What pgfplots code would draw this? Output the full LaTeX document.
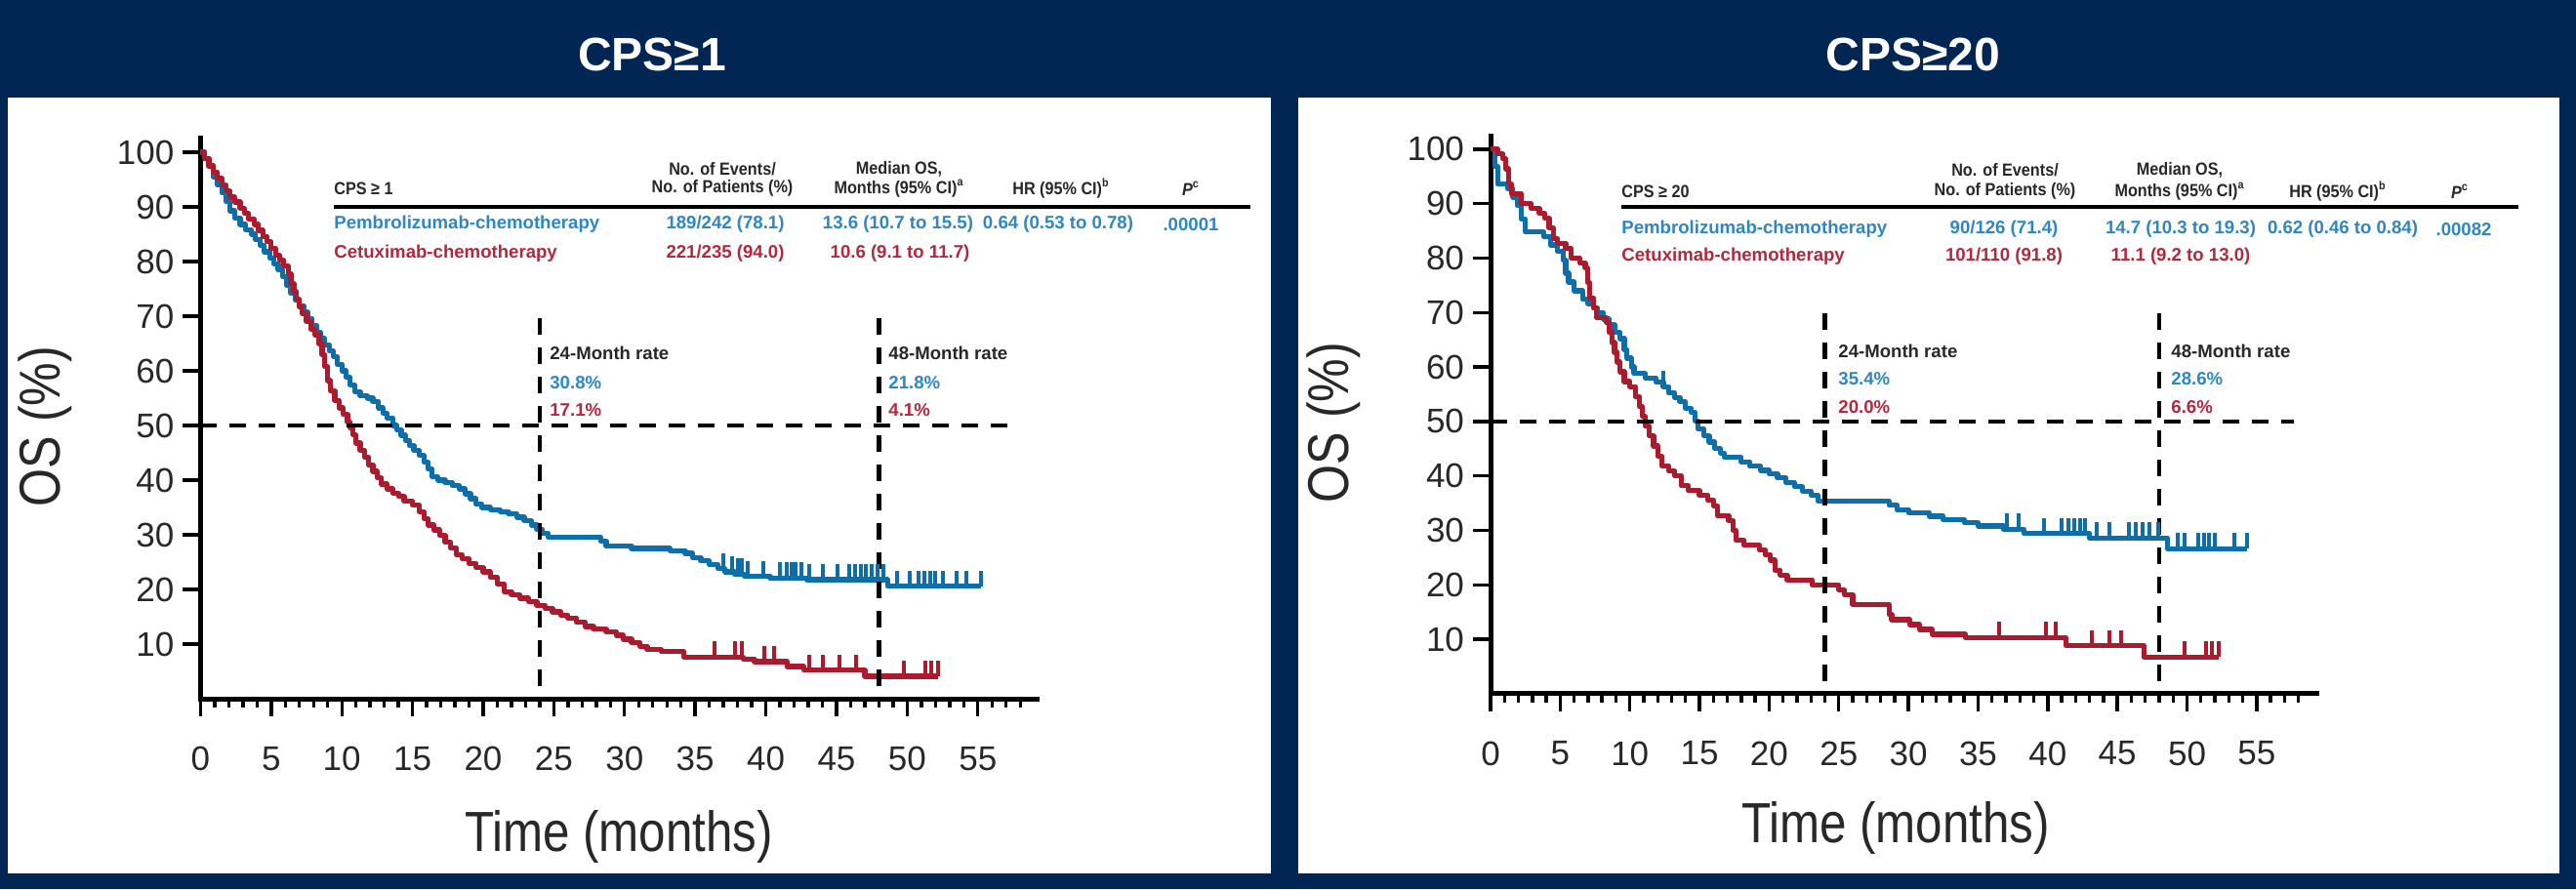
\documentclass[border=0pt]{standalone}
\usepackage{pgfplots}
\pgfplotsset{compat=1.18}
\usepackage{fontspec}
\setmainfont{Liberation Sans}
\newfontfamily\cond[FakeStretch=0.85]{Liberation Sans}
\newfontfamily\condb[FakeStretch=0.9]{Liberation Sans}
\definecolor{navy}{RGB}{2,38,84}
\definecolor{cblue}{RGB}{14,110,170}
\definecolor{cred}{RGB}{172,26,46}
\definecolor{tblue}{RGB}{45,135,195}
\definecolor{tred}{RGB}{180,40,62}
\definecolor{tdark}{RGB}{40,40,40}
\pgfdeclareplotmark{cens}{\pgfpathmoveto{\pgfqpoint{0pt}{0pt}}\pgfpathlineto{\pgfqpoint{0pt}{\pgfplotmarksize}}\pgfusepathqstroke}
\pgfplotsset{kmaxis/.style={scale only axis, anchor=south west, xmin=0, ymin=0,
  axis x line*=bottom, axis y line*=left,
  axis line style={line width=2.5pt, line cap=rect, black},
  tick align=outside, xtick={0,5,...,55}, minor xtick={1,2,...,58}, ytick={10,20,...,100},
  major tick length=9pt, minor tick length=4.5pt,
  tick style={line width=1.7pt, black},
  tick label style={font=\fontsize{17.5}{17.5}\selectfont, text=tdark},
  xticklabel style={yshift=-12pt},
  yticklabel style={xshift=-1pt},
  /pgf/number format/assume math mode=true,
  clip=false},
  kmline/.style={const plot, line width=2.6pt, line join=round},
  kmcens/.style={only marks, mark=cens, mark size=8pt, line width=2pt},
  refline/.style={black, line width=2.2pt, dash pattern=on 8.5pt off 6.5pt}}
\begin{document}
\begin{tikzpicture}
\fill[navy] (0,0) rectangle (1319.5pt,455.5pt);
\fill[white] (4pt,8pt) rectangle (651pt,405.5pt);
\fill[white] (665pt,8pt) rectangle (1311pt,405.5pt);
\node[white,font=\bfseries\fontsize{24}{24}\selectfont] at (334pt,427.5pt) {CPS≥1};
\node[white,font=\bfseries\fontsize{24}{24}\selectfont] at (980pt,427.5pt) {CPS≥20};

% ---------------- Left panel ----------------
\begin{axis}[kmaxis, at={(102.7pt,97.5pt)}, width=428.6pt, height=287pt, xmax=59.2, ymax=102.5]
\addplot[kmline, cblue] coordinates {(0,100) (0.3,98.8) (0.6,97.5) (0.9,95.5) (1.2,94.0) (1.5,92.6) (1.8,91.0) (2.1,89.3) (2.4,88.0) (2.8,86.8) (3.2,85.8) (3.6,85.0) (3.9,84.0) (4.2,83.0) (4.5,81.8) (4.9,80.6) (5.2,79.6) (5.5,78.5) (5.8,77.3) (6.1,75.6) (6.4,74.2) (6.7,73.0) (7.0,71.9) (7.3,70.7) (7.6,69.6) (7.9,68.3) (8.2,67.1) (8.5,65.9) (8.8,64.8) (9.1,63.6) (9.4,62.6) (9.7,61.2) (10.0,60.0) (10.3,58.8) (10.6,57.4) (10.9,56.2) (11.3,55.4) (11.8,55.0) (12.2,54.4) (12.6,53.2) (12.9,52.3) (13.2,51.4) (13.6,50.0) (13.9,49.2) (14.2,48.2) (14.5,47.3) (14.8,46.3) (15.1,45.4) (15.5,44.5) (15.8,43.3) (16.1,42.0) (16.4,40.6) (16.8,40.0) (17.3,39.6) (17.8,39.0) (18.3,38.4) (18.7,37.5) (19.1,36.6) (19.5,35.6) (19.9,35.0) (20.5,34.6) (21.2,34.2) (21.8,33.8) (22.4,33.2) (22.9,32.6) (23.4,31.8) (23.8,31.0) (24.2,30.3) (24.6,29.6) (28.3,28.8) (28.7,27.9) (30.5,27.5) (33.2,27.1) (34.3,26.6) (34.8,25.8) (35.4,25.2) (36.0,24.5) (36.6,23.8) (37.1,23.2) (37.8,22.8) (38.5,22.4) (40.3,22.1) (42.9,21.8) (48.6,20.6) (55.2,20.6)};
\addplot[kmcens, cblue] coordinates {(37.0,23.8) (37.6,23.2) (38.0,22.8) (38.3,22.8) (38.7,22.4) (39.8,22.4) (41.0,22.1) (41.5,22.1) (41.8,22.1) (42.1,22.1) (42.5,22.1) (43.1,21.8) (44.0,21.8) (45.1,21.8) (45.9,21.8) (46.3,21.8) (46.7,21.8) (47.1,21.8) (47.5,21.8) (47.9,21.8) (48.3,21.8) (49.3,20.6) (50.2,20.6) (50.8,20.6) (51.2,20.6) (51.6,20.6) (52.0,20.6) (52.5,20.6) (53.5,20.6) (54.2,20.6) (55.2,20.6)};
\addplot[kmline, cred] coordinates {(0,100) (0.3,98.8) (0.6,97.5) (0.9,96.4) (1.2,95.2) (1.5,94.0) (1.8,92.9) (2.1,91.8) (2.4,90.9) (2.8,89.8) (3.1,88.8) (3.4,87.8) (3.8,86.8) (4.1,85.7) (4.4,84.6) (4.7,83.6) (5.0,82.4) (5.3,81.2) (5.6,80.2) (5.9,79.2) (6.2,77.8) (6.4,76.0) (6.6,74.5) (6.8,73.1) (7.0,71.7) (7.2,70.4) (7.5,69.0) (7.8,67.6) (8.1,66.6) (8.4,64.9) (8.6,63.0) (8.8,60.8) (9.0,58.2) (9.2,56.3) (9.5,54.6) (9.8,53.2) (10.1,52.0) (10.4,50.6) (10.6,49.6) (10.8,48.3) (11.0,46.8) (11.3,45.5) (11.6,44.2) (11.9,42.8) (12.2,41.6) (12.5,40.4) (12.8,39.3) (13.2,38.4) (13.6,37.6) (14.0,37.0) (14.4,36.2) (15.0,35.4) (15.5,34.2) (15.8,33.0) (16.1,31.8) (16.5,30.9) (16.9,29.9) (17.3,28.7) (17.7,27.6) (18.1,26.4) (18.5,25.6) (19.0,24.8) (19.5,24.0) (20.0,23.2) (20.5,22.2) (21.0,21.0) (21.5,19.6) (22.0,19.0) (22.6,18.4) (23.2,17.8) (23.8,17.1) (24.4,16.5) (24.9,15.9) (25.5,15.3) (26.0,14.8) (26.6,14.0) (27.2,13.2) (27.8,12.7) (28.7,12.3) (29.4,11.6) (29.9,10.9) (30.5,10.3) (31.1,9.6) (31.6,9.0) (32.6,8.6) (34.2,7.6) (38.4,7.2) (39.2,6.8) (41.5,5.9) (42.7,5.2) (47.0,4.1) (52.2,4.1)};
\addplot[kmcens, cred] coordinates {(36.4,7.6) (37.8,7.6) (38.3,7.6) (39.9,6.8) (40.6,6.8) (43.1,5.2) (44.0,5.2) (45.2,5.2) (46.4,5.2) (49.8,4.1) (51.3,4.1) (51.7,4.1) (52.2,4.1)};
\addplot[refline] coordinates {(0,50) (57.7,50)};
\addplot[refline] coordinates {(24,2.3) (24,71.6)};
\addplot[refline] coordinates {(48,2.3) (48,71.6)};
\end{axis}

% ---------------- Right panel ----------------
\begin{axis}[kmaxis, at={(763.5pt,100.1pt)}, width=423.1pt, height=285.4pt, xmax=59.3, ymax=102.3]
\addplot[kmline, cblue] coordinates {(0,100) (0.3,96.8) (0.5,93.6) (1.2,92.8) (1.6,91.2) (1.9,89.6) (2.2,87.2) (2.5,84.8) (3.8,84.0) (4.3,82.4) (4.8,81.2) (5.2,79.6) (5.4,77.2) (5.6,75.6) (6.0,74.0) (6.6,72.4) (7.0,71.6) (7.4,70.8) (7.7,70.0) (8.1,68.8) (8.5,67.8) (8.9,66.4) (9.3,65.2) (9.6,63.2) (9.8,61.6) (10.1,60.0) (10.3,58.8) (11.1,58.0) (11.9,57.2) (12.4,56.4) (12.8,55.2) (13.2,54.4) (13.6,53.6) (14.0,52.4) (14.4,51.6) (14.7,50.0) (14.9,48.6) (15.3,47.4) (15.7,46.2) (16.1,45.0) (16.5,44.2) (16.8,43.4) (18.0,42.6) (18.6,41.8) (19.4,41.0) (20.0,40.4) (20.6,39.6) (21.2,38.8) (21.8,38.0) (22.4,37.2) (23.0,36.4) (23.5,35.4) (28.6,34.6) (29.2,33.8) (30.0,33.2) (31.5,32.6) (32.5,32.0) (34.0,31.4) (35.0,30.8) (36.8,30.2) (38.3,29.4) (43.0,28.6) (48.6,26.6) (54.3,26.6)};
\addplot[kmcens, cblue] coordinates {(12.4,56.4) (37.1,30.2) (37.9,30.2) (39.7,29.4) (41.0,29.4) (41.5,29.4) (41.9,29.4) (42.3,29.4) (42.7,29.4) (43.5,28.6) (44.4,28.6) (45.8,28.6) (46.3,28.6) (46.8,28.6) (47.3,28.6) (47.9,28.6) (49.3,26.6) (49.8,26.6) (50.8,26.6) (51.2,26.6) (51.6,26.6) (52.0,26.6) (53.4,26.6) (54.3,26.6)};
\addplot[kmline, cred] coordinates {(0,100) (0.5,99.1) (0.9,98.2) (1.1,96.4) (1.3,93.6) (1.5,91.8) (2.2,90.0) (2.9,89.1) (3.5,88.2) (3.9,87.3) (4.2,85.5) (4.5,83.6) (4.8,82.7) (5.4,81.8) (5.8,80.0) (6.4,79.1) (6.8,78.2) (6.95,75.5) (7.1,72.7) (7.4,70.9) (7.6,69.1) (8.3,68.2) (8.5,66.4) (8.7,64.5) (8.9,62.7) (9.1,60.9) (9.3,59.1) (9.6,57.3) (10.0,56.4) (10.4,54.5) (10.7,52.7) (10.9,50.9) (11.1,49.1) (11.4,47.3) (11.7,45.5) (12.0,43.6) (12.3,41.8) (12.8,40.9) (13.2,40.0) (13.7,38.2) (14.2,37.3) (15.0,36.4) (15.6,35.5) (16.0,34.5) (16.3,32.7) (17.1,31.8) (17.4,30.0) (17.6,28.2) (18.2,27.3) (19.3,26.4) (19.7,25.5) (20.1,24.5) (20.4,22.7) (20.8,21.8) (21.3,20.9) (23.1,20.0) (25.0,19.1) (25.4,18.2) (26.0,16.4) (28.6,14.5) (28.8,13.6) (30.1,12.7) (30.8,11.8) (31.7,10.9) (34.1,10.3) (41.3,8.8) (46.9,6.7) (52.3,6.7)};
\addplot[kmcens, cred] coordinates {(36.5,10.3) (39.9,10.3) (40.6,10.3) (43.2,8.8) (44.4,8.8) (45.3,8.8) (49.8,6.7) (51.4,6.7) (51.8,6.7) (52.3,6.7)};
\addplot[refline] coordinates {(0,50) (57.7,50)};
\addplot[refline] coordinates {(24,2.3) (24,70)};
\addplot[refline] coordinates {(48,2.3) (48,70)};
\end{axis}

% axis titles
\node[rotate=90, font=\cond\fontsize{29.5}{29.5}\selectfont, text=tdark] at (23pt,237pt) {OS (\%)};
\node[font=\cond\fontsize{29}{29}\selectfont, text=tdark] at (317pt,27pt) {Time (months)};
\node[rotate=90, font=\cond\fontsize{29.5}{29.5}\selectfont, text=tdark] at (683pt,239pt) {OS (\%)};
\node[font=\cond\fontsize{29}{29}\selectfont, text=tdark] at (971pt,31.5pt) {Time (months)};

% ---------------- Tables ----------------
\begin{scope}[every node/.style={inner sep=0pt, font=\condb\bfseries\fontsize{9}{9}\selectfont, text=tdark}]
\node[anchor=west] at (171pt,359pt) {CPS ≥ 1};
\node at (370pt,369pt) {No. of Events/};
\node at (370pt,359pt) {No. of Patients (\%)};
\node at (460.5pt,369pt) {Median OS,};
\node at (460.5pt,359pt) {Months (95\% CI)\textsuperscript{a}};
\node at (543.5pt,359pt) {HR (95\% CI)\textsuperscript{b}};
\node at (610pt,359pt) {\itshape P\textsuperscript{\upshape c}};
\node at (1027pt,368.5pt) {No. of Events/};
\node at (1027pt,357.5pt) {No. of Patients (\%)};
\node at (1116.5pt,368.5pt) {Median OS,};
\node at (1116.5pt,357.5pt) {Months (95\% CI)\textsuperscript{a}};
\node at (1197.5pt,357.5pt) {HR (95\% CI)\textsuperscript{b}};
\node at (1260pt,357.5pt) {\itshape P\textsuperscript{\upshape c}};
\node[anchor=west] at (830.5pt,357.5pt) {CPS ≥ 20};
\end{scope}
\draw[line width=2pt, black] (171pt,349.5pt) -- (640.5pt,349.5pt);
\draw[line width=2pt, black] (830.5pt,349.5pt) -- (1290pt,349.5pt);
\begin{scope}[every node/.style={inner sep=0pt, font=\bfseries\fontsize{9.3}{9.3}\selectfont}]
\node[anchor=west, text=tblue] at (171pt,340.5pt) {Pembrolizumab-chemotherapy};
\node[text=tblue] at (371.5pt,340.5pt) {189/242 (78.1)};
\node[text=tblue] at (460pt,340.5pt) {13.6 (10.7 to 15.5)};
\node[text=tblue] at (542pt,340.5pt) {0.64 (0.53 to 0.78)};
\node[text=tblue] at (610pt,340.5pt) {.00001};
\node[anchor=west, text=tred] at (171pt,325.75pt) {Cetuximab-chemotherapy};
\node[text=tred] at (371.5pt,325.75pt) {221/235 (94.0)};
\node[text=tred] at (461pt,325.75pt) {10.6 (9.1 to 11.7)};
\node[anchor=west, text=tblue] at (830.5pt,338pt) {Pembrolizumab-chemotherapy};
\node[text=tblue] at (1026.5pt,338pt) {90/126 (71.4)};
\node[text=tblue] at (1117pt,338pt) {14.7 (10.3 to 19.3)};
\node[text=tblue] at (1200pt,338pt) {0.62 (0.46 to 0.84)};
\node[text=tblue] at (1262pt,338pt) {.00082};
\node[anchor=west, text=tred] at (830.5pt,324pt) {Cetuximab-chemotherapy};
\node[text=tred] at (1026.5pt,324pt) {101/110 (91.8)};
\node[text=tred] at (1117pt,324pt) {11.1 (9.2 to 13.0)};
% rate annotations
\node[anchor=west, text=tdark] at (281.5pt,274.5pt) {24-Month rate};
\node[anchor=west, text=tblue] at (281.5pt,259.5pt) {30.8\%};
\node[anchor=west, text=tred] at (281.5pt,245.5pt) {17.1\%};
\node[anchor=west, text=tdark] at (455pt,274.5pt) {48-Month rate};
\node[anchor=west, text=tblue] at (455pt,259.5pt) {21.8\%};
\node[anchor=west, text=tred] at (455pt,245.5pt) {4.1\%};
\node[anchor=west, text=tdark] at (941.5pt,275.5pt) {24-Month rate};
\node[anchor=west, text=tblue] at (941.5pt,261.5pt) {35.4\%};
\node[anchor=west, text=tred] at (941.5pt,247pt) {20.0\%};
\node[anchor=west, text=tdark] at (1112pt,275.5pt) {48-Month rate};
\node[anchor=west, text=tblue] at (1112pt,261.5pt) {28.6\%};
\node[anchor=west, text=tred] at (1112pt,247pt) {6.6\%};
\end{scope}
\end{tikzpicture}
\end{document}
